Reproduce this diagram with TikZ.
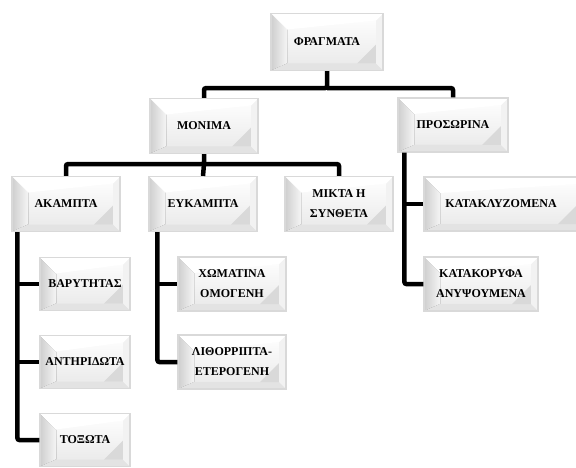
\documentclass[tikz,border=0pt]{standalone}
\usepackage{fontspec}
\setmainfont{Liberation Serif}
\usetikzlibrary{calc}
\tikzset{
  bev/.style={draw=gray!30, line width=1.2pt, inner sep=0pt, align=center,
    font=\fontsize{12}{20}\selectfont\bfseries,
    path picture={
      \fill[top color=white, bottom color=gray!18]
        (path picture bounding box.north west) rectangle (path picture bounding box.south east);
      \fill[left color=gray!38, right color=gray!8]
        (path picture bounding box.north west) -- ++(16pt,-16pt)
        -- ($(path picture bounding box.south west)+(16pt,7pt)$)
        -- (path picture bounding box.south west) -- cycle;
      \fill[gray!22]
        (path picture bounding box.south west) -- ++(16pt,7pt)
        -- ($(path picture bounding box.south east)+(-7pt,7pt)$)
        -- (path picture bounding box.south east) -- cycle;
      \fill[gray!30]
        ($(path picture bounding box.south east)+(-26pt,7pt)$)
        -- ($(path picture bounding box.south east)+(-7pt,7pt)$)
        -- ($(path picture bounding box.south east)+(-7pt,26pt)$) -- cycle;
      \fill[gray!10]
        (path picture bounding box.north east) -- ++(-7pt,-7pt)
        -- ($(path picture bounding box.south east)+(-7pt,7pt)$)
        -- (path picture bounding box.south east) -- cycle;
      \fill[white]
        (path picture bounding box.north west) -- ++(16pt,-16pt)
        -- ($(path picture bounding box.north east)+(-7pt,-7pt)$)
        -- (path picture bounding box.north east) -- cycle;
    }},
  conn/.style={line width=4.5pt, black, rounded corners=2pt}
}
\begin{document}
\begin{tikzpicture}[x=1pt,y=-1pt]
\useasboundingbox (0,0) rectangle (576,468);
\node[bev, minimum width=112pt, minimum height=57pt] (fr) at (327,42) {ΦΡΑΓΜΑΤΑ};
\node[bev, minimum width=108pt, minimum height=55pt] (mon) at (204,126) {ΜΟΝΙΜΑ};
\node[bev, minimum width=110pt, minimum height=54pt] (pro) at (453,125) {ΠΡΟΣΩΡΙΝΑ};
\node[bev, minimum width=108pt, minimum height=55pt] (ak) at (66,204) {ΑΚΑΜΠΤΑ};
\node[bev, minimum width=108pt, minimum height=55pt] (eu) at (203,204) {ΕΥΚΑΜΠΤΑ};
\node[bev, minimum width=108pt, minimum height=55pt] (mi) at (339,204) {ΜΙΚΤΑ Η\\ΣΥΝΘΕΤΑ};
\node[bev, minimum width=160pt, minimum height=54pt] (kz) at (504,204) {ΚΑΤΑΚΛΥΖΟΜΕΝΑ\hspace*{6pt}};
\node[bev, minimum width=114pt, minimum height=54pt] (kk) at (481,284) {ΚΑΤΑΚΟΡΥΦΑ\\ΑΝΥΨΟΥΜΕΝΑ};
\node[bev, minimum width=90pt, minimum height=53pt] (ba) at (85,284) {ΒΑΡΥΤΗΤΑΣ};
\node[bev, minimum width=90pt, minimum height=53pt] (an) at (85,362) {ΑΝΤΗΡΙΔΩΤΑ};
\node[bev, minimum width=90pt, minimum height=53pt] (to) at (85,440) {ΤΟΞΩΤΑ};
\node[bev, minimum width=108pt, minimum height=54pt] (xo) at (232,284) {ΧΩΜΑΤΙΝΑ\\ΟΜΟΓΕΝΗ};
\node[bev, minimum width=108pt, minimum height=54pt] (li) at (232,362) {ΛΙΘΟΡΡΙΠΤΑ-\\ΕΤΕΡΟΓΕΝΗ};
% connectors
\coordinate (j1) at ($(fr.south)+(0,17)$);
\draw[conn] (fr.south) -- (j1) -| (mon.north);
\draw[conn] (j1) -| (pro.north);
\coordinate (j2) at ($(mon.south)+(0,10)$);
\draw[conn] (mon.south) -- (j2) -| (ak.north);
\draw[conn] (j2) -| (mi.north);
\draw[conn] (j2) -- (eu.north);
\coordinate (akb) at ($(ak.south west)+(6,0)$);
\draw[conn] (akb) |- (to.west);
\draw[conn] (akb |- ba.west) -- (ba.west);
\draw[conn] (akb |- an.west) -- (an.west);
\coordinate (eub) at ($(eu.south west)+(9,0)$);
\draw[conn] (eub) |- (li.west);
\draw[conn] (eub |- xo.west) -- (xo.west);
\coordinate (prb) at ($(pro.south west)+(7,0)$);
\draw[conn] (prb) |- (kk.west);
\draw[conn] (prb |- kz.west) -- (kz.west);
\end{tikzpicture}
\end{document}
